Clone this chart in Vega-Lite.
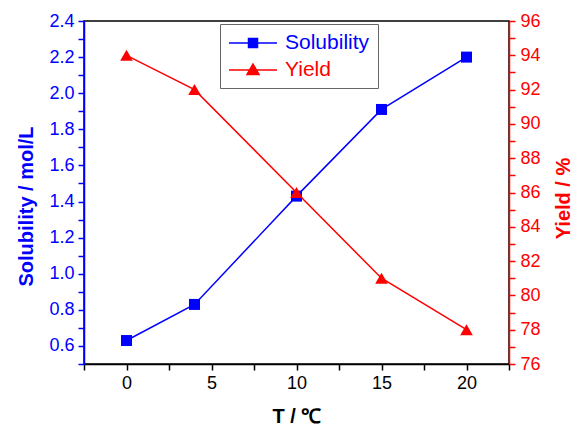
{
  "$schema": "https://vega.github.io/schema/vega-lite/v6.json",
  "width": 425,
  "height": 343,
  "autosize": "none",
  "padding": {"left": 84, "top": 21, "right": 63, "bottom": 61},
  "background": "#ffffff",
  "config": {
    "font": "Liberation Sans",
    "view": {"stroke": "#000000", "strokeWidth": 1.5},
    "axis": {
      "labelFont": "Liberation Sans",
      "labelFontSize": 18,
      "titleFont": "Liberation Sans",
      "titleFontSize": 20,
      "titleFontWeight": "bold",
      "grid": false,
      "domainWidth": 1.5,
      "tickWidth": 1.5,
      "tickSize": 6,
      "labelOverlap": false,
      "labelFlush": false
    }
  },
  "data": {
    "values": [
      {"T": 0, "series": "Solubility", "value": 0.63},
      {"T": 4, "series": "Solubility", "value": 0.83},
      {"T": 10, "series": "Solubility", "value": 1.43},
      {"T": 15, "series": "Solubility", "value": 1.91},
      {"T": 20, "series": "Solubility", "value": 2.2},
      {"T": 0, "series": "Yield", "value": 94},
      {"T": 4, "series": "Yield", "value": 92},
      {"T": 10, "series": "Yield", "value": 86},
      {"T": 15, "series": "Yield", "value": 81},
      {"T": 20, "series": "Yield", "value": 78}
    ]
  },
  "encoding": {
    "x": {
      "field": "T",
      "type": "quantitative",
      "scale": {"domain": [-2.5, 22.5], "nice": false, "zero": false},
      "axis": {
        "title": "T / ℃",
        "values": [-2.5, 0, 2.5, 5, 7.5, 10, 12.5, 15, 17.5, 20, 22.5],
        "labelExpr": "datum.value % 5 == 0 ? datum.label : ''",
        "domainColor": "#000000",
        "tickColor": "#000000",
        "labelColor": "#000000",
        "titleColor": "#000000",
        "labelPadding": 4,
        "titlePadding": 14,
        "encode": {"ticks": {"update": {"y2": {"signal": "datum.value % 5 == 0 ? 6 : 3"}}}}
      }
    },
    "color": {
      "field": "series",
      "type": "nominal",
      "scale": {"domain": ["Solubility", "Yield"], "range": ["#0000ff", "#ff0000"]},
      "legend": {
        "orient": "none",
        "legendX": 136,
        "legendY": 3,
        "title": null,
        "fillColor": "#ffffff",
        "strokeColor": "#666666",
        "padding": 8,
        "labelFont": "Liberation Sans",
        "labelFontSize": 21,
        "symbolSize": 400,
        "labelOffset": 35,
        "rowPadding": 6,
        "encode": {
          "symbols": {
            "update": {
              "shape": {"signal": "datum.value == 'Solubility' ? 'M-1,0H3.8M0.95,-0.45H1.85V0.45H0.95Z' : 'M-1,0H3.8M1.4,-0.6L2.0,0.45H0.8Z'"},
              "fill": {"signal": "datum.value == 'Solubility' ? '#0000ff' : '#ff0000'"},
              "stroke": {"signal": "datum.value == 'Solubility' ? '#0000ff' : '#ff0000'"},
              "strokeWidth": {"value": 1.5},
              "opacity": {"value": 1},
              "fillOpacity": {"value": 1}
            }
          },
          "labels": {
            "update": {
              "fill": {"signal": "datum.value == 'Solubility' ? '#0000ff' : '#ff0000'"}
            }
          }
        }
      }
    }
  },
  "layer": [
    {
      "transform": [{"filter": "datum.series == 'Solubility'"}],
      "mark": {"type": "line", "strokeWidth": 1.5, "point": {"shape": "square", "size": 121, "filled": true, "opacity": 1}},
      "encoding": {
        "y": {
          "field": "value",
          "type": "quantitative",
          "scale": {"domain": [0.5, 2.4], "nice": false, "zero": false},
          "axis": {
            "orient": "left",
            "title": "Solubility / mol/L",
            "values": [0.5, 0.6, 0.7, 0.8, 0.9, 1.0, 1.1, 1.2, 1.3, 1.4, 1.5, 1.6, 1.7, 1.8, 1.9, 2.0, 2.1, 2.2, 2.3, 2.4],
            "format": ".1f",
            "labelExpr": "round(datum.value * 10) % 2 == 0 ? datum.label : ''",
            "domainColor": "#0000ff",
            "tickColor": "#0000ff",
            "labelColor": "#0000ff",
            "titleColor": "#0000ff",
            "labelPadding": 4,
            "titlePadding": 12,
            "titleY": 185,
            "encode": {"ticks": {"update": {"x2": {"signal": "round(datum.value * 10) % 2 == 0 ? -6 : -3"}}}}
          }
        }
      }
    },
    {
      "transform": [{"filter": "datum.series == 'Yield'"}],
      "mark": {"type": "line", "strokeWidth": 1.5, "point": {"shape": "triangle-up", "size": 160, "filled": true, "opacity": 1}},
      "encoding": {
        "y": {
          "field": "value",
          "type": "quantitative",
          "scale": {"domain": [76, 96], "nice": false, "zero": false},
          "axis": {
            "orient": "right",
            "title": "Yield / %",
            "titleAngle": 270,
            "titleX": 54,
            "titleY": 177,
            "titleBaseline": "middle",
            "titleAlign": "center",
            "values": [76, 77, 78, 79, 80, 81, 82, 83, 84, 85, 86, 87, 88, 89, 90, 91, 92, 93, 94, 95, 96],
            "labelExpr": "datum.value % 2 == 0 ? datum.label : ''",
            "domainColor": "#ff0000",
            "tickColor": "#ff0000",
            "labelColor": "#ff0000",
            "titleColor": "#ff0000",
            "labelPadding": 5,
            "encode": {"ticks": {"update": {"x2": {"signal": "datum.value % 2 == 0 ? 6 : 3"}}}}
          }
        }
      }
    }
  ],
  "resolve": {"scale": {"y": "independent"}}
}
